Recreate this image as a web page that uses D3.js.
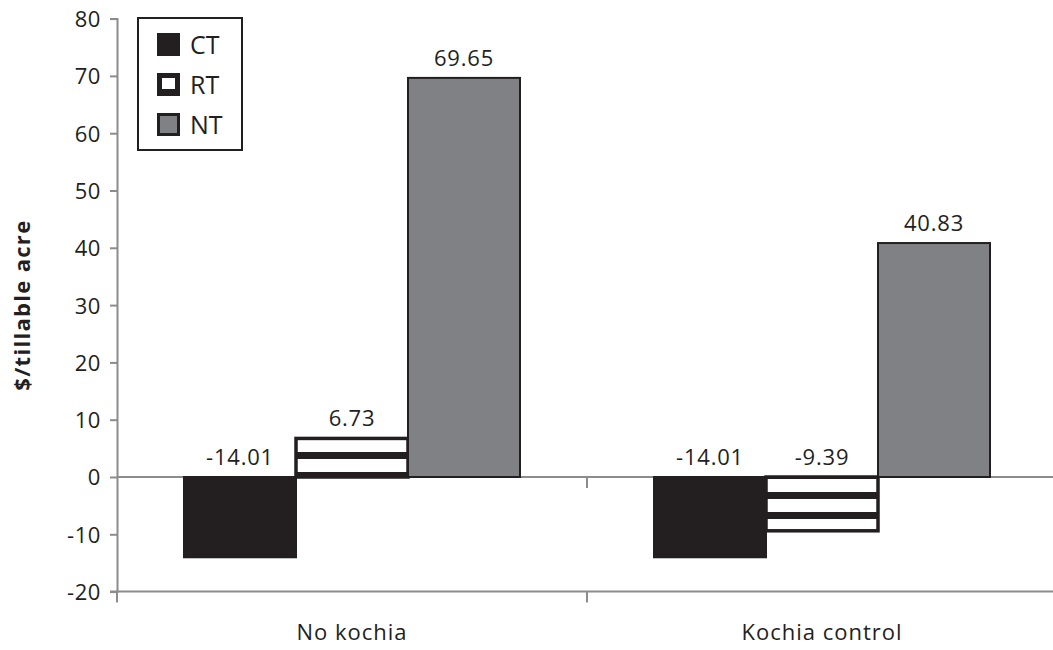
<!DOCTYPE html>
<html>
<head>
<meta charset="utf-8">
<script src="https://cdn.jsdelivr.net/npm/d3@7"></script>
<style>
  html, body { margin: 0; padding: 0; background: #fff; }
  svg { display: block; }
  text { font-family: "Open Sans", "Noto Sans", sans-serif; fill: #231f20; }
</style>
</head>
<body>
<svg id="chart" width="1053" height="650"></svg>
<script>
// Net returns by tillage system, with and without kochia control
const categories = ["No kochia", "Kochia control"];
const series = ["CT", "RT", "NT"];
const ctValues = [-14.01, -14.01];
const rtValues = [6.73, -9.39];
const ntValues = [69.65, 40.83];
const yTicks = [-20, -10, 0, 10, 20, 30, 40, 50, 60, 70, 80];
const yTitle = "$/tillable acre";

const values = { CT: ctValues, RT: rtValues, NT: ntValues };

// plain hyphen for negative numbers
const locale = d3.formatLocale({ decimal: ".", thousands: ",", grouping: [3], currency: ["$", ""], minus: "-" });
const fmtValue = locale.format(".2f");
const fmtTick = locale.format("d");

const svg = d3.select("#chart");
const plotLeft = 117, plotRight = 1057, plotTop = 18.6, plotBottom = 591.6;

const x0 = d3.scaleBand().domain(categories).range([plotLeft, plotRight]).paddingInner(0).paddingOuter(0);
const x1 = d3.scaleBand().domain(series).range([67, x0.bandwidth() - 67]).padding(0);
const y = d3.scaleLinear().domain([-20, 80]).range([plotBottom, plotTop]);

const axisColor = "#8c8c8c";
const ink = "#231f20";

// striped pattern for RT bars, anchored to the zero line
const defs = svg.append("defs");
const stripe = defs.append("pattern")
  .attr("id", "rtStripe")
  .attr("patternUnits", "userSpaceOnUse")
  .attr("width", 20).attr("height", 20)
  .attr("y", y(0) + 15);
stripe.append("rect").attr("width", 20).attr("height", 20).attr("fill", "#fff");
stripe.append("rect").attr("width", 20).attr("height", 7).attr("fill", ink);

const fills = { CT: ink, RT: "url(#rtStripe)", NT: "#808184" };

// y axis
const yAxis = svg.append("g")
  .attr("transform", `translate(${plotLeft},0)`)
  .call(d3.axisLeft(y).tickValues(yTicks).tickSize(7).tickPadding(9).tickFormat(fmtTick));
yAxis.select(".domain").attr("stroke", axisColor).attr("stroke-width", 2);
yAxis.selectAll(".tick line").attr("stroke", axisColor).attr("stroke-width", 2);
yAxis.selectAll(".tick text")
  .style("font-size", "22px").style("letter-spacing", "0.6px")
  .attr("fill", ink).attr("dy", "0.36em");

// bottom category axis
const xAxis = svg.append("g")
  .attr("transform", `translate(0,${y(-20)})`);
xAxis.append("line").attr("x1", plotLeft - 7).attr("x2", 1053)
  .attr("stroke", axisColor).attr("stroke-width", 2);
const boundaries = [plotLeft].concat(categories.map(c => x0(c) + x0.bandwidth()));
xAxis.selectAll("line.tick").data(boundaries).join("line")
  .attr("class", "tick")
  .attr("x1", d => d).attr("x2", d => d)
  .attr("y1", 0).attr("y2", 11)
  .attr("stroke", axisColor).attr("stroke-width", 2);
xAxis.selectAll("text").data(categories).join("text")
  .attr("x", d => x0(d) + x0.bandwidth() / 2)
  .attr("y", 48)
  .attr("text-anchor", "middle")
  .style("font-size", "22px").style("letter-spacing", "1px")
  .text(d => d);

// zero line
svg.append("line")
  .attr("x1", plotLeft).attr("x2", 1053)
  .attr("y1", y(0)).attr("y2", y(0))
  .attr("stroke", axisColor).attr("stroke-width", 2);
svg.selectAll("line.zerotick").data(boundaries.slice(1)).join("line")
  .attr("class", "zerotick")
  .attr("x1", d => d).attr("x2", d => d)
  .attr("y1", y(0)).attr("y2", y(0) + 11)
  .attr("stroke", axisColor).attr("stroke-width", 2);

// bars
const barData = [];
categories.forEach((c, i) => series.forEach(s => barData.push({ cat: c, s, v: values[s][i] })));

svg.append("g").selectAll("rect").data(barData).join("rect")
  .attr("x", d => x0(d.cat) + x1(d.s))
  .attr("width", x1.bandwidth())
  .attr("y", d => y(Math.max(0, d.v)))
  .attr("height", d => Math.abs(y(d.v) - y(0)))
  .attr("fill", d => fills[d.s])
  .attr("stroke", ink)
  .attr("stroke-width", d => d.s === "RT" ? 3.5 : 2);

// value labels
svg.append("g").selectAll("text").data(barData).join("text")
  .attr("x", d => x0(d.cat) + x1(d.s) + x1.bandwidth() / 2)
  .attr("y", d => y(Math.max(0, d.v)) - 12)
  .attr("text-anchor", "middle")
  .style("font-size", "22px").style("letter-spacing", "0.8px")
  .text(d => fmtValue(d.v));

// legend
const legend = svg.append("g").attr("transform", "translate(138,18)");
legend.append("rect").attr("width", 104).attr("height", 132)
  .attr("fill", "#fff").attr("stroke", ink).attr("stroke-width", 2);
series.forEach((s, i) => {
  const g = legend.append("g").attr("transform", `translate(19,${15 + i * 40})`);
  if (s === "RT") {
    g.append("rect").attr("width", 23).attr("height", 23).attr("fill", ink);
    g.append("rect").attr("x", 5).attr("y", 5).attr("width", 13).attr("height", 11).attr("fill", "#fff");
  } else if (s === "NT") {
    g.append("rect").attr("x", 1.5).attr("y", 1.5).attr("width", 20).attr("height", 20)
      .attr("fill", fills[s]).attr("stroke", ink).attr("stroke-width", 3);
  } else {
    g.append("rect").attr("width", 23).attr("height", 23).attr("fill", fills[s]);
  }
  g.append("text").attr("x", 33).attr("y", 21).style("font-size", "25px").text(s);
});

// y axis title
svg.append("text")
  .attr("transform", `translate(30,${(plotTop + plotBottom) / 2}) rotate(-90)`)
  .attr("text-anchor", "middle")
  .style("font-size", "22px")
  .style("font-weight", "bold")
  .style("letter-spacing", "1.3px")
  .text(yTitle);
</script>
</body>
</html>
